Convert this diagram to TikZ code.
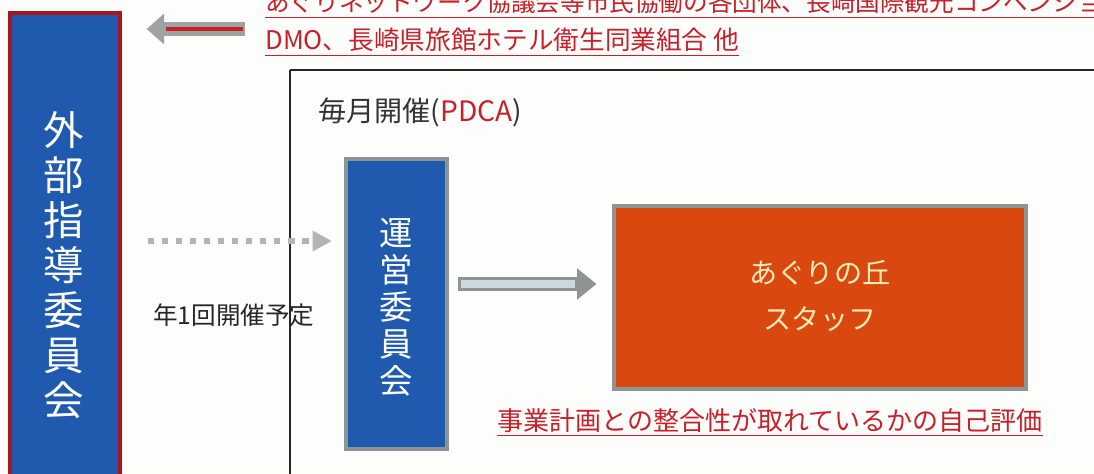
\documentclass[tikz,border=0pt]{standalone}
\usepackage{fontspec}
\setmainfont{Noto Sans CJK JP}
\usetikzlibrary{arrows.meta}
\definecolor{boxblue}{HTML}{1F5AAE}
\definecolor{boxred}{HTML}{A5161E}
\definecolor{txtred}{HTML}{C8202A}
\definecolor{orangefill}{HTML}{D9490F}
\definecolor{bordergray}{HTML}{8C9494}
\definecolor{arrowgray}{HTML}{9EA2A2}
\definecolor{lightfill}{HTML}{C9D9DE}
\definecolor{dotgray}{HTML}{B4B4B4}
\definecolor{cream}{HTML}{FFEAB8}
\definecolor{paper}{HTML}{FDFDFB}
\tikzset{
  pbox/.style={draw, inner sep=0pt},
  vtext/.style={text=white, align=center, inner sep=0pt},
  redtext/.style={text=txtred, inner sep=0pt, anchor=base west, font=\fontsize{14}{16}\selectfont},
  uline/.style={draw=txtred, line width=0.9pt},
}
\begin{document}
\begin{tikzpicture}[x=0.02cm,y=-0.02cm]
\useasboundingbox[fill=paper] (0,0) rectangle (1094,473);
% frame
\draw[line width=0.7pt, black!85] (290,70) -- (1100,70);
\draw[line width=0.7pt, black!85] (290,70) -- (290,480);
\coordinate (frame) at (290,70);
% left box
\node[pbox, draw=boxred, fill=boxblue, line width=1.9pt, minimum width=2.2cm, minimum height=9.6cm] (gaibu) at (65,253) {};
\node[vtext, font=\fontsize{23}{25.6}\selectfont] (gaibut) at (64,265) {外\\部\\指\\導\\委\\員\\会};
% unei box
\node[pbox, draw=bordergray, fill=boxblue, line width=2.3pt, minimum width=2.02cm, minimum height=5.8cm] (unei) at (396.5,304) {};
\node[vtext, font=\fontsize{19}{21}\selectfont] (ueit) at (396.5,307) {運\\営\\委\\員\\会};
% orange box
\node[pbox, draw=bordergray, fill=orangefill, line width=2.3pt, minimum width=8.26cm, minimum height=3.66cm] (staff) at (820,297.5) {};
\node[text=cream, align=center, inner sep=0pt, font=\fontsize{16}{26}\selectfont] (stafft) at (820,296) {あぐりの丘\\スタッフ};
% texts
\node[redtext] (top1) at (265,12) {あぐりネットワーク協議会等市民協働の各団体、長崎国際観光コンベンション協会};
\node[redtext, font=\fontsize{14.6}{16}\selectfont] (top2) at (265,50) {DMO、長崎県旅館ホテル衛生同業組合 他};
\draw[uline] ([yshift=-3.2pt]top1.base west) -- ([yshift=-3.2pt]top1.base east);
\draw[uline] ([yshift=-3.2pt]top2.base west) -- ([yshift=-3.2pt]top2.base east);
\node[inner sep=0pt, anchor=base west, font=\fontsize{16}{18}\selectfont, text=black!80] (pdca) at (318,121) {毎月開催(\textcolor{txtred}{PDCA})};
\node[inner sep=0pt, anchor=base west, font=\fontsize{14}{16}\selectfont, text=black!85] (nen) at (153,324) {年1回開催予定};
\node[redtext, font=\fontsize{14.8}{16}\selectfont] (eval) at (497,430) {事業計画との整合性が取れているかの自己評価};
\draw[uline] ([yshift=-3.2pt]eval.base west) -- ([yshift=-3.2pt]eval.base east);
% top arrow (from text to left box)
\coordinate (atail) at (245,29);
\draw[arrowgray, line width=7.5pt, -{Triangle[length=10pt,width=17pt]}] (atail) -- ([xshift=25*0.02cm]gaibu.east |- atail);
\draw[txtred, line width=2.6pt] (243,29) -- (166,29);
% dotted arrow
\draw[dotgray, line width=3.6pt, dash pattern=on 3.6pt off 4.4pt, -{Triangle[length=11pt,width=11pt]}] ([xshift=26*0.02cm]gaibu.east |- 0,241) -- ([xshift=-12*0.02cm]unei.west |- 0,241);
% hollow arrow
\draw[bordergray, line width=8pt, -{Triangle[length=11pt,width=17pt]}] ([xshift=9*0.02cm]unei.east |- 0,284) -- ([xshift=-15*0.02cm]staff.west |- 0,284);
\draw[lightfill, line width=4pt] ([xshift=12*0.02cm]unei.east |- 0,284) -- (575,284);
\end{tikzpicture}
\end{document}
